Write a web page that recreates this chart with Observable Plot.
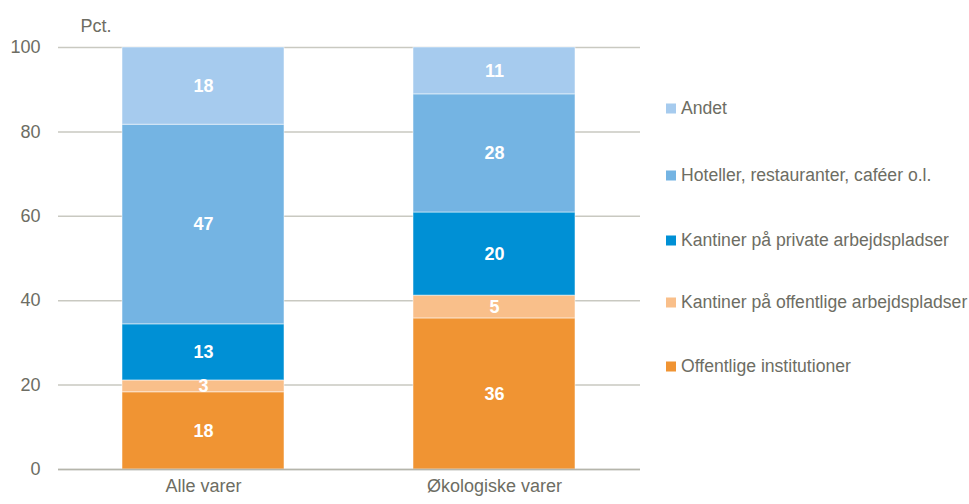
<!DOCTYPE html>
<html>
<head>
<meta charset="utf-8">
<script src="https://cdn.jsdelivr.net/npm/d3@7"></script>
<script src="https://cdn.jsdelivr.net/npm/@observablehq/plot@0.6"></script>
<style>
  body { margin: 0; background: #fff; }
  #wrap { position: relative; width: 969px; height: 504px; font-family: "Liberation Sans Narrow", "Arial Narrow", Arial, sans-serif; }
  #legend { position: absolute; left: 666px; top: 0; }
  .item { position: absolute; left: 0; white-space: nowrap; font-size: 17.6px; color: #6d6d63; display: flex; align-items: center; transform: translateY(-50%); }
  .sw { width: 10px; height: 10px; margin-right: 5px; flex: none; }
</style>
</head>
<body>
<div id="wrap"><div id="chart"></div><div id="legend"></div></div>
<script>
const categories = ["Alle varer", "Økologiske varer"];
const series = ["Offentlige institutioner", "Kantiner på offentlige arbejdspladser", "Kantiner på private arbejdspladser", "Hoteller, restauranter, caféer o.l.", "Andet"];
const colors = ["#f09433", "#f9bf8a", "#0090d5", "#74b4e3", "#a6cbee"];
const alleVarer = [18.3, 2.8, 13.3, 47.3, 18.3];
const oekoVarer = [35.8, 5.4, 19.7, 28.0, 11.1];
const yTicks = [0, 20, 40, 60, 80, 100];

const values = [alleVarer, oekoVarer];
const data = [];
categories.forEach((c, i) => series.forEach((s, j) => data.push({cat: c, series: s, value: values[i][j]})));

const font = '"Liberation Sans Narrow", "Arial Narrow", Arial, sans-serif';
const chart = Plot.plot({
  width: 650, height: 504,
  marginLeft: 58, marginRight: 10, marginTop: 47, marginBottom: 35,
  style: {fontFamily: font, fontSize: "18px", color: "#6d6d63", background: "#fff"},
  x: {domain: categories, paddingInner: 0.443, paddingOuter: 0.2215, label: null, tickSize: 0, tickPadding: 10},
  y: {domain: [0, 100], ticks: yTicks, label: null, tickSize: 0, tickPadding: 18},
  color: {domain: series, range: colors},
  marks: [
    Plot.ruleY(yTicks, {stroke: "#c9c9c1", strokeWidth: 1.5}),
    Plot.barY(data, Plot.stackY({x: "cat", y: "value", fill: "series", order: series, stroke: "#fff", strokeWidth: 1, strokeOpacity: 0.5})),
    Plot.ruleY([0], {stroke: "#b5b5ab", strokeWidth: 1.5}),
    Plot.text(data, Plot.stackY({x: "cat", y: "value", z: "series", order: series, text: d => d3.format(".0f")(d.value), fill: "#fff", fontWeight: "bold", fontSize: 18})),
    Plot.text(["Pct."], {frameAnchor: "top-left", textAnchor: "start", lineAnchor: "middle", dx: 22, dy: -21, fill: "#6d6d63", fontSize: 18})
  ]
});
document.getElementById("chart").appendChild(chart);

const legendY = [108, 175, 240, 302, 366];
const legend = document.getElementById("legend");
const order = [4, 3, 2, 1, 0];
order.forEach((j, k) => {
  const div = document.createElement("div");
  div.className = "item";
  div.style.top = legendY[k] + "px";
  const sw = document.createElement("span");
  sw.className = "sw";
  sw.style.background = colors[j];
  div.appendChild(sw);
  div.appendChild(document.createTextNode(series[j]));
  legend.appendChild(div);
});
</script>
</body>
</html>
